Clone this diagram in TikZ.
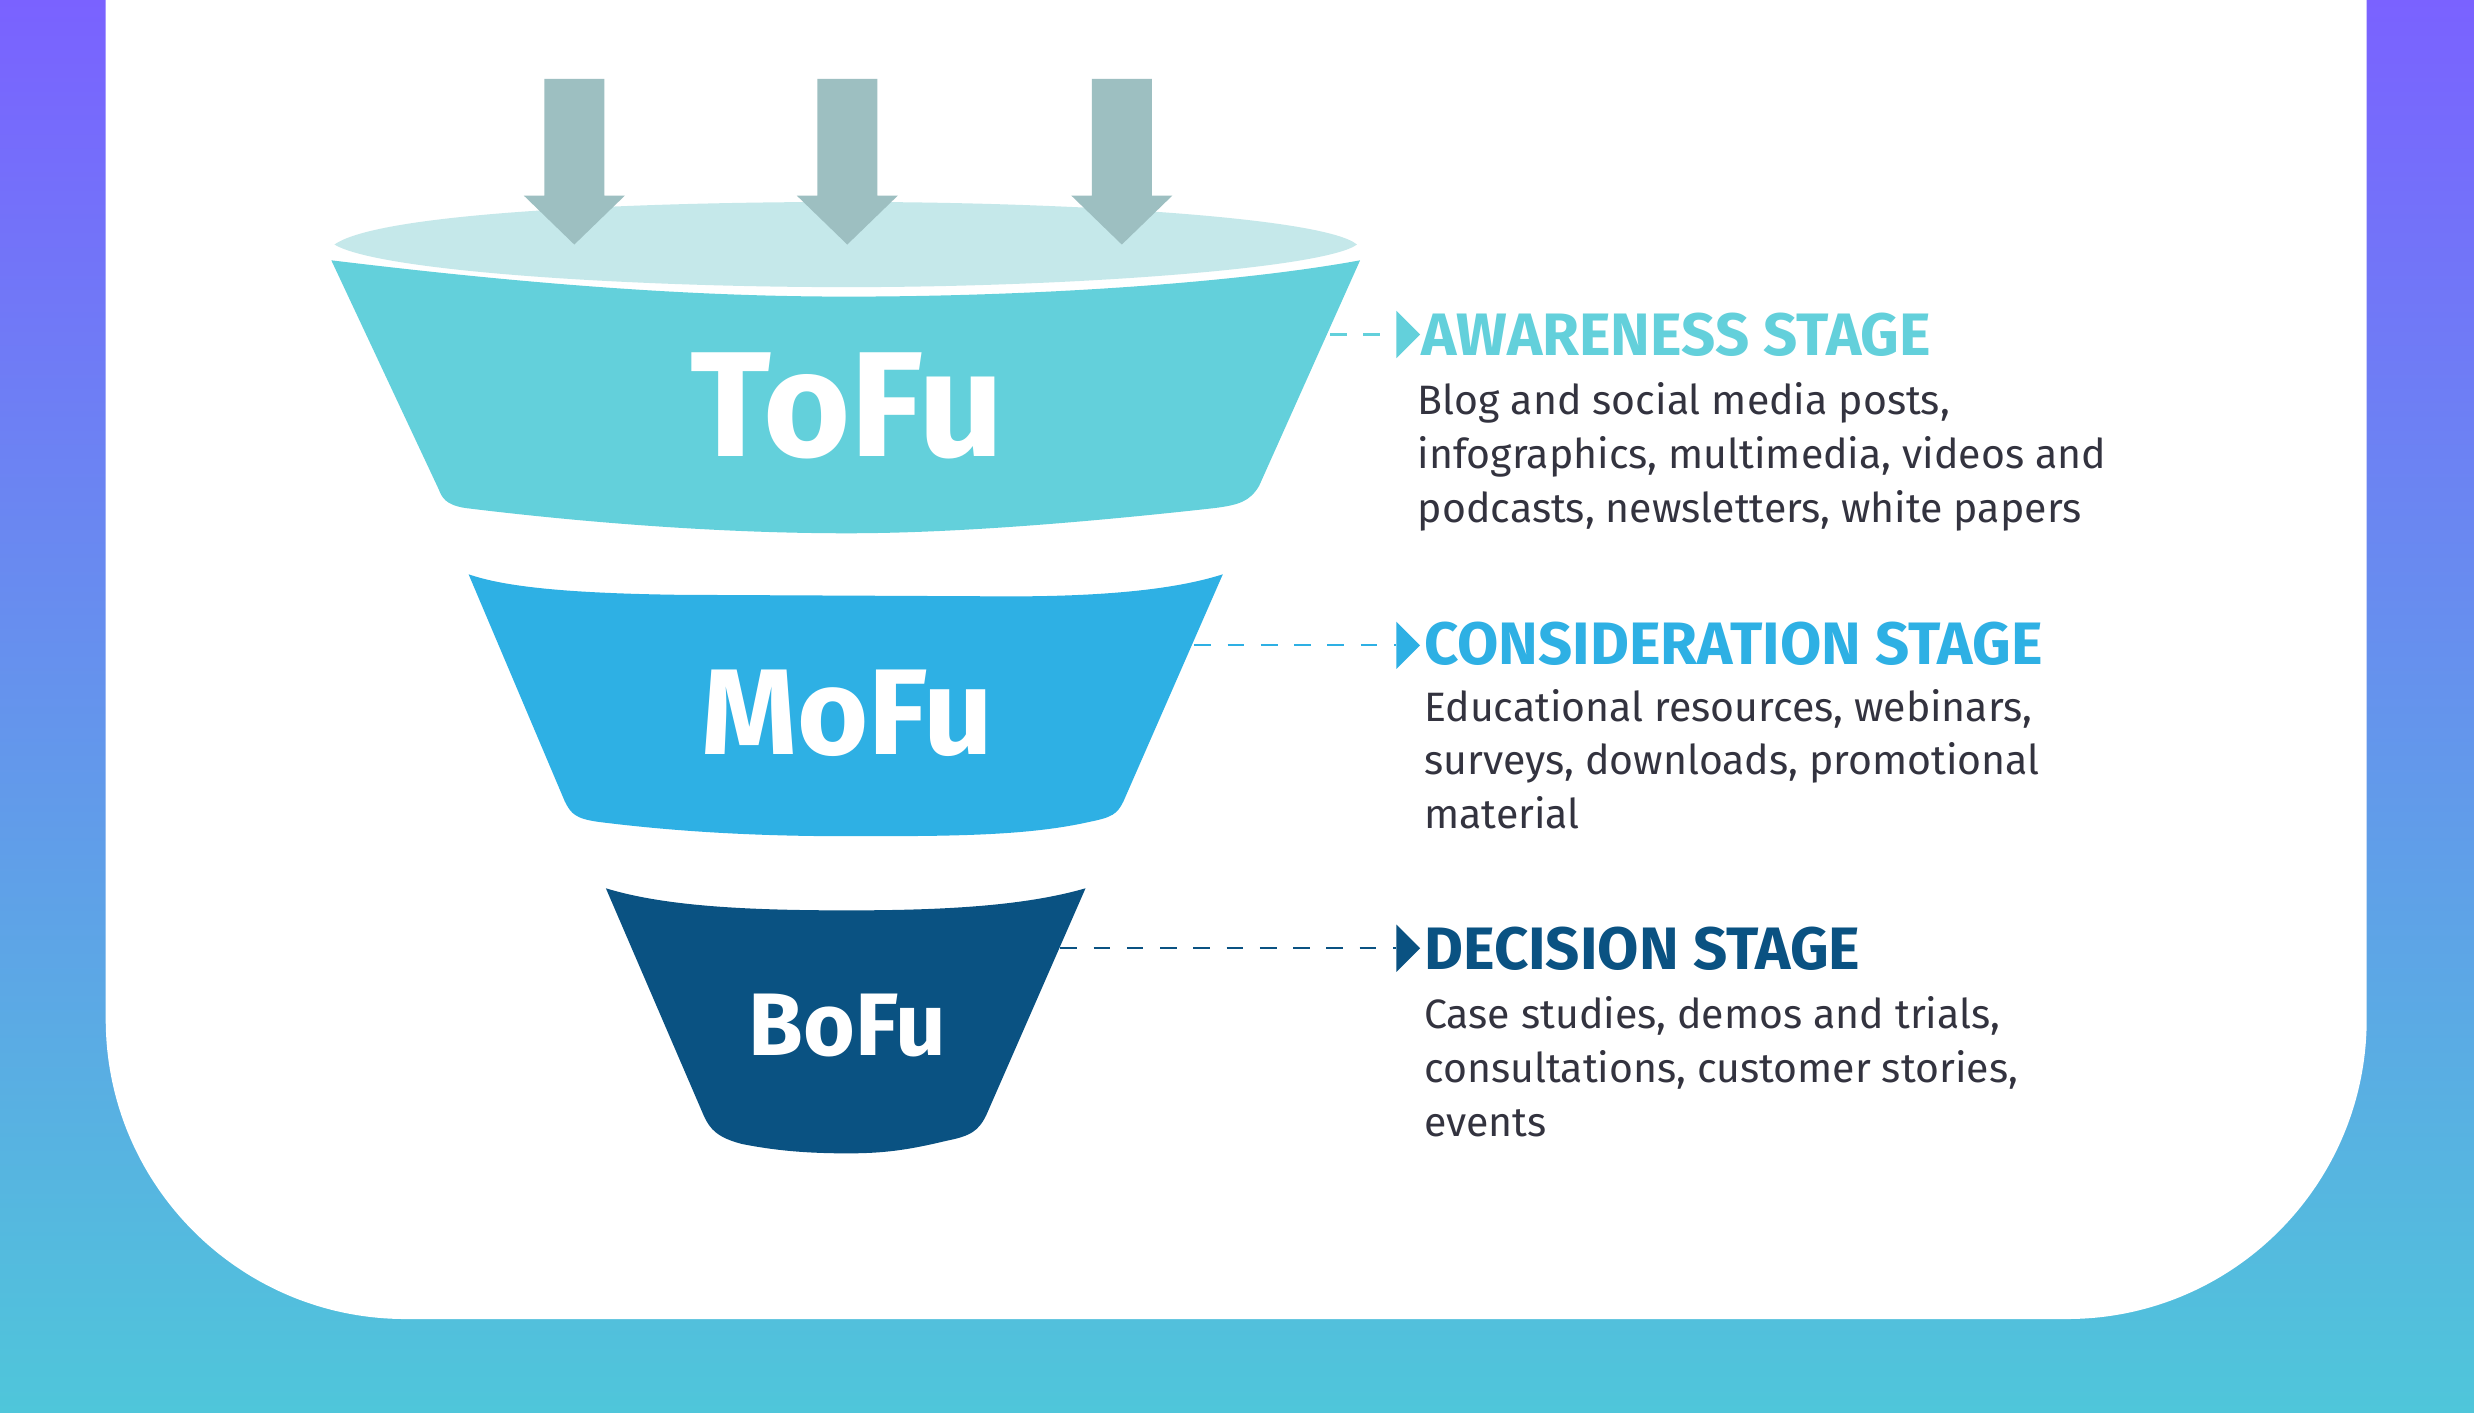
\documentclass[tikz,border=0pt]{standalone}
\usepackage{fontspec}
\setmainfont{Fira Sans}
\definecolor{lid}{HTML}{C5E8EA}
\definecolor{tofu}{HTML}{63D0DB}
\definecolor{mofu}{HTML}{2EB0E4}
\definecolor{bofu}{HTML}{0A5282}
\definecolor{arr}{HTML}{9DBFC1}
\definecolor{body}{HTML}{33333F}
\definecolor{gtop}{HTML}{7A62FF}
\definecolor{gbot}{HTML}{4FC6DA}
\tikzset{
 head/.style={anchor=west,font=\bfseries\fontsize{10.8}{12}\selectfont,inner sep=0},
 bodytext/.style={anchor=north west,align=left,font=\fontsize{7.4}{9.7}\selectfont,text=body,inner sep=0},
 conn/.style={dashed,line width=0.4pt},
 downarrow/.style={fill=arr}
}
\begin{document}
\begin{tikzpicture}[x=0.1mm,y=-0.1mm]
\useasboundingbox (0,0) rectangle (1568,895);
\shade[top color=gtop,bottom color=gbot] (0,0) rectangle (1568,895);
\begin{scope}
\clip (0,0) rectangle (1568,895);
\fill[white,rounded corners=19mm] (67,-300) rectangle (1500,836);
\end{scope}
% lid
\fill[lid] (212,155) .. controls (240,135) and (400,128) .. (537,128) .. controls (680,128) and (840,138) .. (860,155) .. controls (840,170) and (680,182) .. (537,182) .. controls (400,182) and (240,172) .. (212,155) -- cycle;
% arrows
\foreach \x/\n in {364/a1,537/a2,711/a3}{
 \fill[downarrow] (\x-19,50) -- (\x+19,50) -- (\x+19,124) -- (\x+32,124) -- (\x,155) -- (\x-32,124) -- (\x-19,124) -- cycle;
}
% ToFu
\fill[tofu] (210,165) .. controls (350,182) and (450,188) .. (537,188) .. controls (650,188) and (780,180) .. (862,165) -- (798,308) .. controls (792,318) and (785,320) .. (770,322) .. controls (680,332) and (600,338) .. (537,338) .. controls (450,338) and (360,330) .. (295,322) .. controls (282,320) and (280,315) .. (278,310) -- cycle;
\node[text=white,font=\fontsize{27}{30}\selectfont\bfseries] (t) at (537,257) {ToFu};
% MoFu
\fill[mofu] (297,364) .. controls (320,372) and (360,376) .. (430,377) -- (640,378) .. controls (710,378) and (750,372) .. (775,364) -- (712,508) .. controls (708,516) and (705,518) .. (690,521) .. controls (650,530) and (600,530) .. (537,530) .. controls (470,530) and (420,526) .. (380,521) .. controls (365,519) and (362,516) .. (358,508) -- cycle;
\node[text=white,font=\fontsize{22}{25}\selectfont\bfseries] (m) at (537,452) {MoFu};
% BoFu
\fill[bofu] (384,563) .. controls (420,574) and (470,577) .. (537,577) .. controls (600,577) and (650,574) .. (688,563) -- (625,707) .. controls (620,717) and (615,720) .. (600,723) .. controls (575,729) and (560,731) .. (537,731) .. controls (510,731) and (490,729) .. (470,725) .. controls (455,721) and (450,716) .. (446,707) -- cycle;
\node[text=white,font=\fontsize{16}{18}\selectfont\bfseries] (b) at (537,650) {BoFu};
% connectors
\coordinate (c1) at (843,212); \coordinate (c2) at (757,409); \coordinate (c3) at (672,601);
\node[head,text=tofu] (h1) at (900,212) {AWARENESS STAGE};
\node[head,text=mofu] (h2) at (902,408) {CONSIDERATION STAGE};
\node[head,text=bofu] (h3) at (902,601) {DECISION STAGE};
\draw[conn,tofu] (c1) -- (885,212);
\fill[tofu] (885,197) -- (900,212) -- (885,227) -- cycle;
\draw[conn,mofu] (c2) -- (885,409);
\fill[mofu] (885,394) -- (900,409) -- (885,424) -- cycle;
\draw[conn,bofu] (c3) -- (885,601);
\fill[bofu] (885,586) -- (900,601) -- (885,616) -- cycle;
\node[bodytext] (d1) at (898,242) {Blog and social media posts,\\infographics, multimedia, videos and\\podcasts, newsletters, white papers};
\node[bodytext] (d2) at (902,436) {Educational resources, webinars,\\surveys, downloads, promotional\\material};
\node[bodytext] (d3) at (902,631) {Case studies, demos and trials,\\consultations, customer stories,\\events};
\end{tikzpicture}
\end{document}
